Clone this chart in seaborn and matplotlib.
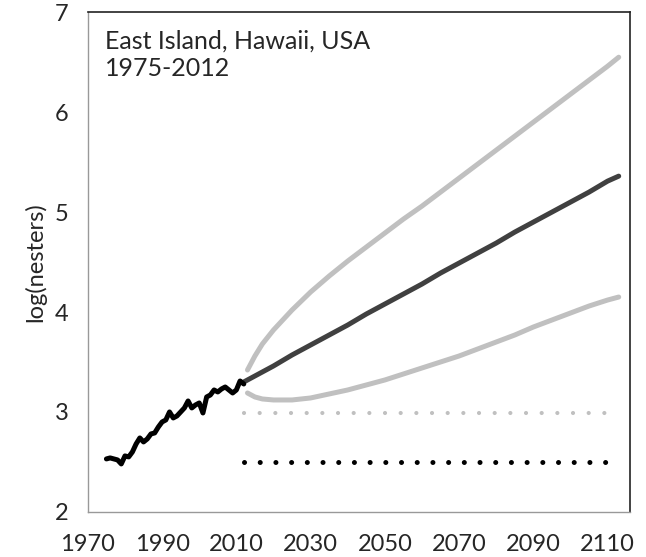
import pandas as pd
import matplotlib.pyplot as plt
import seaborn as sns

# observed nesters, 1975-2012
obs_years = list(range(1975, 2013))
obs_log = [2.53, 2.54, 2.53, 2.52, 2.48, 2.56, 2.55, 2.60, 2.68, 2.74,
           2.70, 2.73, 2.78, 2.79, 2.85, 2.90, 2.92, 3.00, 2.94, 2.96,
           3.00, 3.04, 3.11, 3.04, 3.07, 3.09, 2.99, 3.15, 3.17, 3.22,
           3.20, 3.23, 3.25, 3.22, 3.19, 3.22, 3.31, 3.28]

# projections
med_years = [2012, 2015, 2020, 2025, 2030, 2035, 2040, 2045, 2050, 2055, 2060,
             2065, 2070, 2075, 2080, 2085, 2090, 2095, 2100, 2105, 2110, 2113]
med_log = [3.30, 3.36, 3.46, 3.57, 3.67, 3.77, 3.87, 3.98, 4.08, 4.18, 4.28,
           4.39, 4.49, 4.59, 4.69, 4.80, 4.90, 5.00, 5.10, 5.20, 5.31, 5.36]

band_years = [2013, 2015, 2017, 2020, 2025, 2030, 2035, 2040, 2045, 2050, 2055, 2060,
              2065, 2070, 2075, 2080, 2085, 2090, 2095, 2100, 2105, 2110, 2113]
upper_log = [3.42, 3.56, 3.68, 3.82, 4.02, 4.20, 4.36, 4.51, 4.65, 4.79, 4.93, 5.06,
             5.20, 5.34, 5.48, 5.62, 5.76, 5.90, 6.04, 6.18, 6.32, 6.46, 6.55]
lower_log = [3.19, 3.15, 3.13, 3.12, 3.12, 3.14, 3.18, 3.22, 3.27, 3.32, 3.38, 3.44,
             3.50, 3.56, 3.63, 3.70, 3.77, 3.85, 3.92, 3.99, 4.06, 4.12, 4.15]

# reference levels (dotted)
ref_years = [2012, 2110]
ref_high = [2.99, 2.99]
ref_low = [2.50, 2.50]

x_ticks = [1970, 1990, 2010, 2030, 2050, 2070, 2090, 2110]
y_ticks = [2, 3, 4, 5, 6, 7]


def main():
    sns.set_style("white")
    plt.rcParams["font.family"] = ["Lato", "DejaVu Sans"]

    fig = plt.figure(figsize=(6.46, 5.57), dpi=100)
    ax = fig.add_axes([0.136, 0.081, 0.839, 0.897])

    lw = 3.6
    sns.lineplot(x=ref_years, y=ref_high, ax=ax, color="#c0c0c0", lw=3.0,
                 linestyle=(0, (0.01, 3.75)), dash_capstyle="round")
    sns.lineplot(x=ref_years, y=ref_low, ax=ax, color="black", lw=3.6,
                 linestyle=(0, (0.01, 3.13)), dash_capstyle="round")
    sns.lineplot(x=band_years, y=upper_log, ax=ax, color="#c0c0c0", lw=lw,
                 solid_capstyle="round")
    sns.lineplot(x=band_years, y=lower_log, ax=ax, color="#c0c0c0", lw=lw,
                 solid_capstyle="round")
    sns.lineplot(x=med_years, y=med_log, ax=ax, color="#404040", lw=lw,
                 solid_capstyle="round")
    sns.lineplot(x=obs_years, y=obs_log, ax=ax, color="black", lw=lw,
                 solid_capstyle="round")

    ax.set_xlim(1970, 2116)
    ax.set_ylim(2, 7)
    ax.set_xticks(x_ticks)
    ax.set_yticks(y_ticks)
    ax.tick_params(axis="both", direction="out", length=5, width=1,
                   color="#999999", labelsize=17)
    ax.tick_params(axis="x", pad=11)
    ax.tick_params(axis="y", pad=9)
    ax.set_xlabel("")
    ax.set_ylabel("log(nesters)", fontsize=17, labelpad=6)

    for side in ["left", "bottom"]:
        ax.spines[side].set_color("#999999")
        ax.spines[side].set_linewidth(1)
    for side in ["top", "right"]:
        ax.spines[side].set_color("#222222")
        ax.spines[side].set_linewidth(1.2)

    ax.text(0.031, 0.965, "East Island, Hawaii, USA\n1975-2012", transform=ax.transAxes,
            ha="left", va="top", fontsize=18, linespacing=1.25)

    plt.savefig("out.png", dpi=100)
    plt.close()


if __name__ == "__main__":
    main()
